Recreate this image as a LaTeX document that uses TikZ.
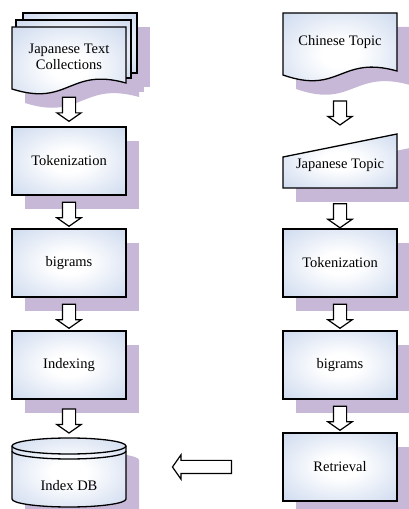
\documentclass[tikz,border=0pt]{standalone}
\usepackage{fontspec}
\setmainfont{Liberation Serif}
\usetikzlibrary{shapes.arrows, shadows}
\definecolor{boxblue}{RGB}{180,199,230}
\definecolor{shadowc}{RGB}{200,184,216}
\pgfdeclareradialshading{glow}{\pgfpoint{0bp}{0bp}}{color(0bp)=(white); color(8bp)=(white); color(50bp)=(boxblue); color(72bp)=(boxblue)}
\tikzstyle{shadowed}=[drop shadow={shadow xshift=13pt, shadow yshift=-14pt, fill=shadowc, opacity=1}]
\tikzstyle{outline}=[draw, line width=1.3pt, shade, shading=glow]
\tikzstyle{proc}=[outline, shadowed, rectangle, minimum width=114pt, minimum height=68pt, font=\fontsize{14.5}{15.5}\selectfont]
\tikzstyle{lbl}=[inner sep=0pt, minimum width=114pt, align=center, font=\fontsize{14.5}{15.5}\selectfont]
\tikzstyle{blockarrow}=[single arrow, draw, fill=white, line width=1.2pt, inner xsep=0pt, inner ysep=6pt, minimum height=24pt, single arrow head extend=5.5pt, single arrow tip angle=110, single arrow head indent=0pt, sloped, allow upside down]
\newcommand{\proc}{\node[proc]}
\newcommand{\flow}[3][]{\path (#2) -- node[blockarrow, #1]{} (#3);}

\begin{document}
\begin{tikzpicture}[x=1pt, y=1pt]
\useasboundingbox (0,0) rectangle (408,509);
%text collections, three pages
\begin{scope}[shift={(13,-14)}]
	\fill[shadowc] (23,436) rectangle (137,496);
	\fill[shadowc] (16,431) rectangle (131,489);
	\fill[shadowc] (12,482) -- (126,482) -- (126,426) .. controls (69,442) and (69,402) .. (12,420) -- cycle;
\end{scope}
\path[outline] (23,436) rectangle (137,496);
\path[outline] (16,431) rectangle (131,489);
\path[outline] (12,482) -- (126,482) -- (126,426) .. controls (69,442) and (69,402) .. (12,420) -- cycle;
\node[lbl, minimum height=61pt] (jtc) at (69,452) {Japanese Text\\Collections};
%topic documents
\path[outline, shadowed] (283,496) -- (397,496) -- (397,438) .. controls (340,454) and (340,414) .. (283,434) -- cycle;
\node[lbl, minimum height=58pt] (cht) at (340,467) {Chinese Topic};
\path[outline, shadowed] (283,352) -- (397,375) -- (397,321) -- (283,321) -- cycle;
\node[lbl, text height=35pt, text depth=19pt, anchor=base] (jpt) at (340,340) {Japanese Topic};
%database
\path[outline, shadowed] (12,63) -- (12,10) arc[start angle=180, end angle=360, x radius=57, y radius=8]
	-- (126,63) arc[start angle=0, end angle=180, x radius=57, y radius=8] -- cycle;
\draw[line width=1.3pt] (12,63) arc[start angle=180, end angle=360, x radius=57, y radius=8];
\draw[line width=1.3pt] (12,58) arc[start angle=180, end angle=360, x radius=57, y radius=8];
\node[lbl, text height=52pt, text depth=17pt, anchor=base] (db) at (69,19) {Index DB};
%process boxes
\proc (tokl) at (69,348) {Tokenization};
\proc (bigl) at (69,246) {bigrams};
\proc (idx) at (69,144) {Indexing};
\proc (tokr) at (340,246) {Tokenization};
\proc (bigr) at (340,144) {bigrams};
\proc (ret) at (340,42) {Retrieval};
%arrows
\flow{jtc}{tokl}
\flow{tokl}{bigl}
\flow{bigl}{idx}
\flow{idx}{db}
\flow[pos=0.63]{cht}{jpt}
\flow[pos=0.63]{jpt}{tokr}
\flow{tokr}{bigr}
\flow{bigr}{ret}
\path (ret) -- node[blockarrow, minimum height=59pt]{} (ret -| db.east);
\end{tikzpicture}
\end{document}
